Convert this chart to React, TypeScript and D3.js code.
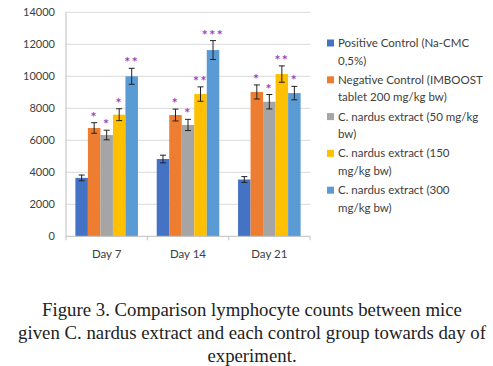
import React from "react";
import * as d3 from "d3";

const categories = ["Day 7", "Day 14", "Day 21"];
const seriesNames = [
  ["Positive Control (Na-CMC", "0,5%)"],
  ["Negative Control (IMBOOST", "tablet 200 mg/kg bw)"],
  ["C. nardus extract (50 mg/kg", "bw)"],
  ["C. nardus extract (150", "mg/kg bw)"],
  ["C. nardus extract (300", "mg/kg bw)"],
];
const colors = ["#4472C4", "#ED7D31", "#A5A5A5", "#FFC000", "#5B9BD5"];
// values per series, per category
const values = [
  [3650, 4830, 3550],
  [6770, 7580, 9020],
  [6330, 6960, 8410],
  [7600, 8890, 10140],
  [10000, 11640, 8950],
];
const errors = [
  [180, 240, 180],
  [330, 370, 440],
  [300, 350, 450],
  [370, 450, 510],
  [500, 590, 420],
];
const stars = [
  ["", "", ""],
  ["*", "*", "*"],
  ["*", "*", "*"],
  ["*", "**", "**"],
  ["**", "***", "*"],
];
const yTicks = [0, 2000, 4000, 6000, 8000, 10000, 12000, 14000];
const captionLines = [
  "Figure 3. Comparison lymphocyte counts between mice",
  "given C. nardus extract and each control group towards day of",
  "experiment.",
];

export default function App() {
  const W = 493, H = 366;
  const left = 66, right = 310, top = 12.3, bottom = 236.3;
  const y = d3.scaleLinear().domain([0, 14000]).range([bottom, top]);
  const x0 = d3.scaleBand().domain(categories).range([left, right]).paddingInner(0).paddingOuter(0);
  const bw = x0.bandwidth() / 6.5;
  const groupPad = (x0.bandwidth() - bw * 5) / 2;
  const x1 = d3.scaleBand().domain(d3.range(5).map(String)).range([groupPad, groupPad + bw * 5]).padding(0);
  const font = "Lato, 'Open Sans', sans-serif";
  return (
    <svg width={W} height={H} style={{ position: "absolute", left: 0, top: 0, background: "#fff" }}>
      {yTicks.map((t) => (
        <g key={t}>
          {t > 0 && <line x1={left} x2={right} y1={y(t)} y2={y(t)} stroke="#D9D9D9" strokeWidth={1} />}
          <text x={55} y={y(t)} dy="0.35em" textAnchor="end" fontFamily={font} fontSize={11} fill="#404040">
            {t}
          </text>
        </g>
      ))}
      <line x1={left} x2={left} y1={top} y2={bottom} stroke="#BFBFBF" />
      {values.map((ser, si) =>
        ser.map((v, ci) => {
          const xb = (x0(categories[ci]) as number) + (x1(String(si)) as number);
          const cx = xb + bw / 2;
          const e = errors[si][ci];
          return (
            <g key={`${si}-${ci}`}>
              <rect x={xb} y={y(v)} width={bw} height={bottom - y(v)} fill={colors[si]} />
              <line x1={cx} x2={cx} y1={y(v + e)} y2={y(v - e)} stroke="#222" strokeWidth={1} />
              <line x1={cx - 3} x2={cx + 3} y1={y(v + e)} y2={y(v + e)} stroke="#222" strokeWidth={1} />
              <line x1={cx - 3} x2={cx + 3} y1={y(v - e)} y2={y(v - e)} stroke="#222" strokeWidth={1} />
              {stars[si][ci] && (
                <text x={cx} y={y(v + e) - 1} textAnchor="middle" fontFamily={font} fontSize={14} fontWeight="bold" fill="#A040C0" letterSpacing={1.5}>
                  {stars[si][ci]}
                </text>
              )}
            </g>
          );
        })
      )}
      <line x1={left} x2={right} y1={bottom} y2={bottom} stroke="#BFBFBF" />
      {[0, 1, 2, 3].map((i) => {
        const xx = left + i * x0.bandwidth();
        return <line key={i} x1={xx} x2={xx} y1={bottom} y2={bottom + 4} stroke="#BFBFBF" />;
      })}
      {categories.map((c) => (
        <text key={c} x={(x0(c) as number) + x0.bandwidth() / 2} y={254} dy="0.35em" textAnchor="middle" fontFamily={font} fontSize={11.5} fill="#404040">
          {c}
        </text>
      ))}
      {seriesNames.map((lines, si) => {
        const gy = 43 + si * 36.8;
        return (
          <g key={si}>
            <rect x={327} y={gy - 3.5} width={7} height={7} fill={colors[si]} />
            {lines.map((l, li) => (
              <text key={li} x={338} y={gy + li * 17.5} dy="0.35em" fontFamily={font} fontSize={11.5} fill="#404040">
                {l}
              </text>
            ))}
          </g>
        );
      })}
      {captionLines.map((l, i) => (
        <text key={i} x={252} y={316 + i * 23} textAnchor="middle" fontFamily="'Liberation Serif', 'Times New Roman', serif" fontSize={18.8} fill="#222">
          {l}
        </text>
      ))}
    </svg>
  );
}
